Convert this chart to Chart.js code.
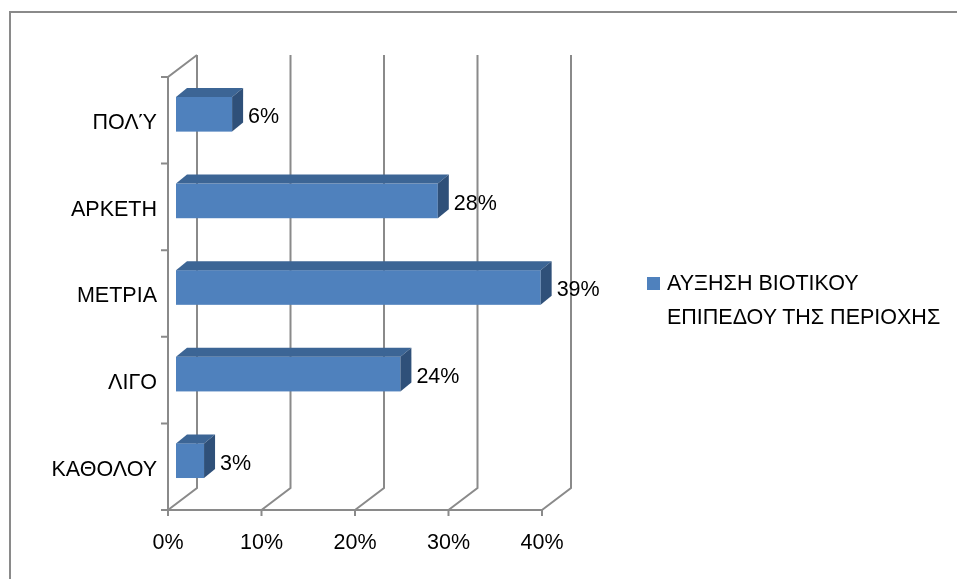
<!DOCTYPE html>
<html>
<head>
<meta charset="utf-8">
<script src="https://cdn.jsdelivr.net/npm/chart.js@4.4.1/dist/chart.umd.min.js"></script>
<style>
  body { margin: 0; background: #fff; }
  #wrap { position: relative; width: 957px; height: 579px; overflow: hidden; }
  #frame { position: absolute; left: 9px; top: 11px; width: 1000px; height: 700px;
           border-left: 2px solid #8a8a8a; border-top: 2px solid #8a8a8a; }
  #chart { position: absolute; left: 0; top: 0; }
  #legend { position: absolute; left: 647px; top: 266px; width: 295px;
            font-family: 'Liberation Sans', Arial, sans-serif; font-size: 21.5px; line-height: 34px; color: #000; }
  #legend .box { position: absolute; left: 0; top: 11px; width: 13px; height: 13px; }
  #legend .txt { margin-left: 20px; }
</style>
</head>
<body>
<div id="wrap">
  <div id="frame"></div>
  <canvas id="chart" width="957" height="579"></canvas>
  <div id="legend"></div>
</div>
<script>
'use strict';
var categories = ['ΠΟΛΎ', 'ΑΡΚΕΤΗ', 'ΜΕΤΡΙΑ', 'ΛΙΓΟ', 'ΚΑΘΟΛΟΥ'];
var values = [6, 28, 39, 24, 3];
var seriesLabel = 'ΑΥΞΗΣΗ ΒΙΟΤΙΚΟΥ ΕΠΙΠΕΔΟΥ ΤΗΣ ΠΕΡΙΟΧΗΣ';
var xTicks = [0, 10, 20, 30, 40];

var FONT = "'Liberation Sans', Arial, sans-serif";
var GRID = '#8a8a8a';
var DX = 29, DY = 22;      // depth of the floor / back wall
var BDX = 11, BDY = 9;     // depth of each bar
var BOX = 8, BOY = 6;      // bar placement inside the depth

var threeD = {
    id: 'threeD',
    beforeDatasetsDraw: function (chart) {
        var ctx = chart.ctx;
        var xs = chart.scales.x;
        var a = chart.chartArea;
        ctx.save();
        ctx.strokeStyle = GRID;
        ctx.lineWidth = 2;
        ctx.beginPath();
        xTicks.forEach(function (v) {
            var px = xs.getPixelForValue(v);
            ctx.moveTo(px, a.bottom); ctx.lineTo(px + DX, a.bottom - DY);
            ctx.lineTo(px + DX, a.top - DY);
            ctx.moveTo(px, a.bottom); ctx.lineTo(px, a.bottom + 6);
        });
        ctx.moveTo(a.left, a.bottom); ctx.lineTo(a.right, a.bottom);
        ctx.moveTo(a.left, a.bottom); ctx.lineTo(a.left, a.top);
        ctx.lineTo(a.left + DX, a.top - DY);
        for (var i = 0; i <= categories.length; i++) {
            var py = a.top + (a.bottom - a.top) * i / categories.length;
            ctx.moveTo(a.left - 7, py); ctx.lineTo(a.left, py);
        }
        ctx.stroke();

        var meta = chart.getDatasetMeta(0);
        meta.data.forEach(function (bar, i) {
            var x0 = bar.base + BOX, x1 = bar.x + BOX;
            var t = bar.y - bar.height / 2 - BOY, b = bar.y + bar.height / 2 - BOY;
            ctx.fillStyle = '#4f81bd';
            ctx.fillRect(x0, t, x1 - x0, b - t);
            ctx.fillStyle = '#3c6595';
            ctx.beginPath();
            ctx.moveTo(x0, t); ctx.lineTo(x0 + BDX, t - BDY); ctx.lineTo(x1 + BDX, t - BDY); ctx.lineTo(x1, t);
            ctx.closePath(); ctx.fill();
            ctx.fillStyle = '#2f5079';
            ctx.beginPath();
            ctx.moveTo(x1, t); ctx.lineTo(x1 + BDX, t - BDY); ctx.lineTo(x1 + BDX, b - BDY); ctx.lineTo(x1, b);
            ctx.closePath(); ctx.fill();
            ctx.fillStyle = '#000';
            ctx.font = '21.5px ' + FONT;
            ctx.textBaseline = 'middle';
            ctx.fillText(values[i] + '%', x1 + BDX + 5, (t + b) / 2 + 3);
        });
        ctx.restore();
        return false;
    }
};

var ctx = document.getElementById('chart').getContext('2d');
var myChart = new Chart(ctx, {
    type: 'bar',
    data: {
        labels: categories,
        datasets: [{
            label: seriesLabel,
            data: values,
            backgroundColor: '#4f81bd',
            categoryPercentage: 1,
            barPercentage: 0.4
        }]
    },
    options: {
        indexAxis: 'y',
        responsive: false,
        animation: false,
        layout: { padding: { left: 0, top: 77, right: 415, bottom: 0 } },
        plugins: { legend: { display: false }, tooltip: { enabled: false } },
        scales: {
            x: {
                min: 0, max: 40,
                grid: { display: false, drawTicks: false },
                border: { display: false },
                ticks: { stepSize: 10, padding: 20, color: '#000', font: { family: FONT, size: 21.5 },
                         callback: function (v) { return v + '%'; } },
                afterFit: function (s) { s.height = 69; }
            },
            y: {
                grid: { display: false, drawTicks: false },
                border: { display: false },
                ticks: { padding: 11, labelOffset: 3, color: '#000', font: { family: FONT, size: 21.5 } },
                afterFit: function (s) { s.width = 168; }
            }
        }
    },
    plugins: [threeD]
});

var lg = document.getElementById('legend');
lg.innerHTML = '<div class="box" style="background:' + myChart.data.datasets[0].backgroundColor +
    '"></div><div class="txt">' + myChart.data.datasets[0].label + '</div>';
</script>
</body>
</html>
